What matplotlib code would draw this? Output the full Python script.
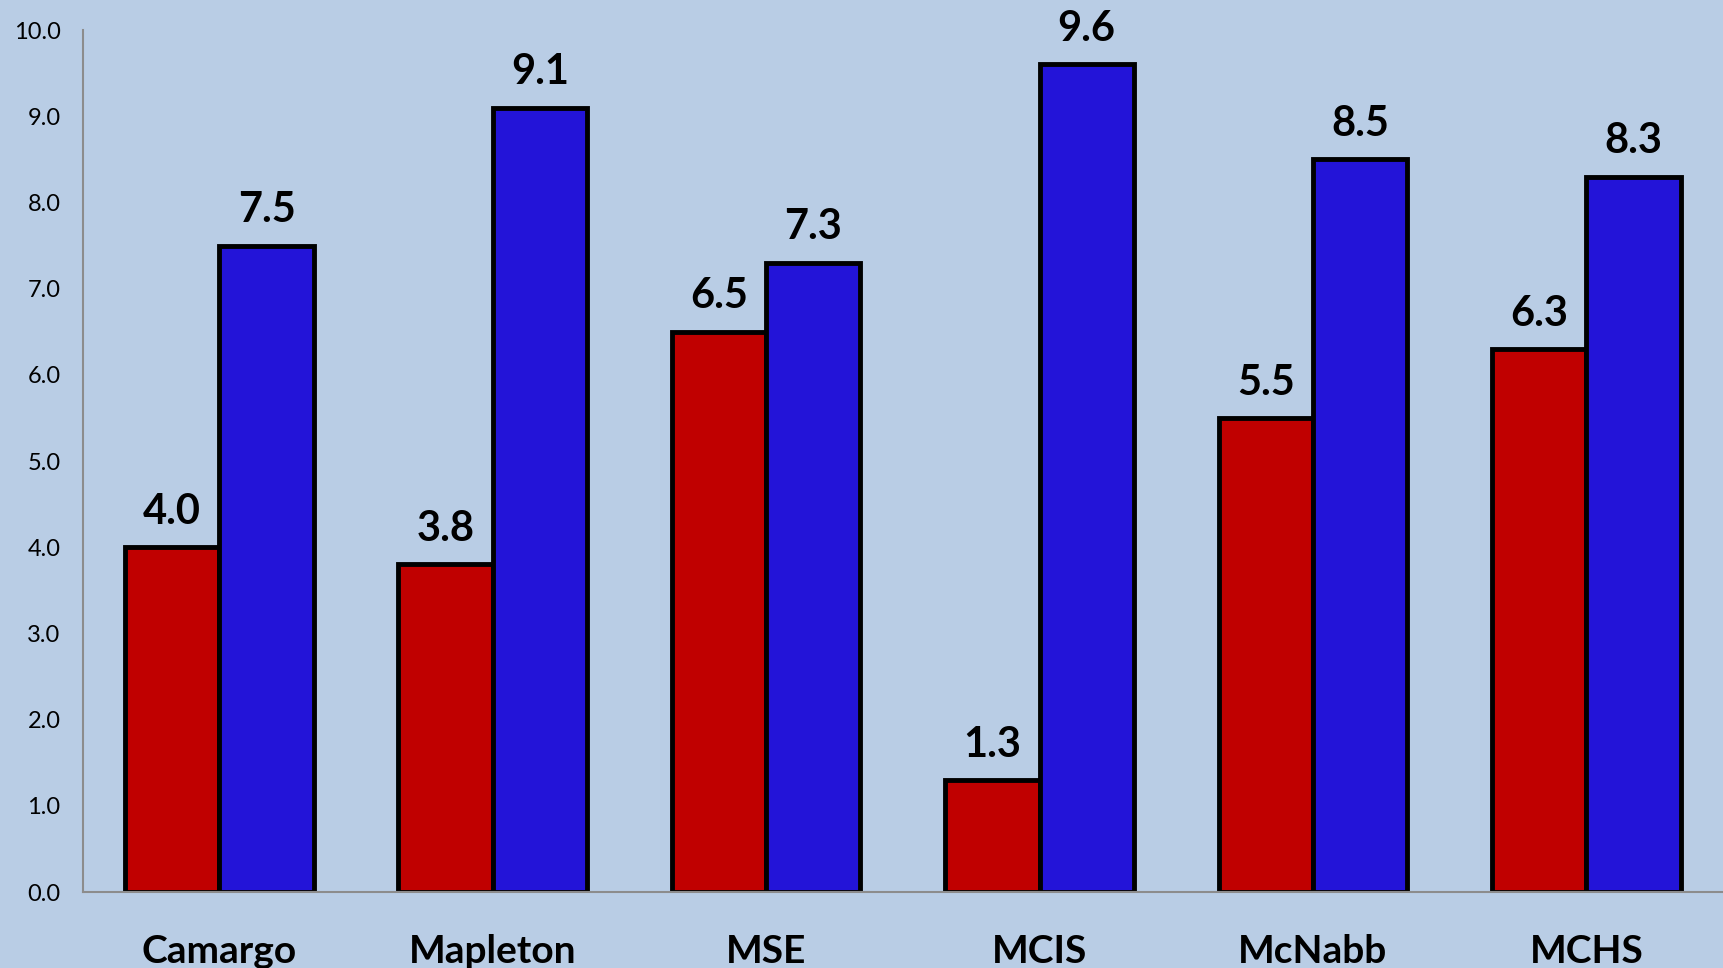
import matplotlib.pyplot as plt
import numpy as np

# data
categories = ['Camargo', 'Mapleton', 'MSE', 'MCIS', 'McNabb', 'MCHS']
red_vals = [4.0, 3.8, 6.5, 1.3, 5.5, 6.3]
blue_vals = [7.5, 9.1, 7.3, 9.6, 8.5, 8.3]
yticks = [0, 1, 2, 3, 4, 5, 6, 7, 8, 9, 10]

bg = '#B9CDE5'
plt.rcParams['font.family'] = ['Lato', 'DejaVu Sans']

fig = plt.figure(figsize=(17.23, 9.68), dpi=100, facecolor=bg)
ax = fig.add_axes([0.048, 0.0785, 0.952, 0.8905], facecolor=bg)

x = np.arange(len(categories))
w = 0.345
b1 = ax.bar(x - w / 2, red_vals, w, color='#C00000', edgecolor='black', linewidth=3.5)
b2 = ax.bar(x + w / 2, blue_vals, w, color='#2314D8', edgecolor='black', linewidth=3.5)

# value labels above each bar
for bars, vals in [(b1, red_vals), (b2, blue_vals)]:
    for r, v in zip(bars, vals):
        ax.text(r.get_x() + r.get_width() / 2, v + 0.19, f'{v:.1f}',
                ha='center', va='bottom', fontsize=30, fontweight='bold')

ax.set_xlim(-0.5, len(categories) - 0.5)
ax.set_ylim(0, 10)
ax.set_yticks(yticks)
ax.set_yticklabels([f'{t:.1f}' for t in yticks], fontsize=17)
ax.set_xticks(x)
ax.set_xticklabels(categories, fontsize=28, fontweight='bold')
ax.tick_params(axis='both', length=0)
ax.tick_params(axis='x', pad=30)
ax.tick_params(axis='y', pad=16)

for s in ['top', 'right']:
    ax.spines[s].set_visible(False)
for s in ['left', 'bottom']:
    ax.spines[s].set_color('#8C8C8C')
    ax.spines[s].set_linewidth(1.5)

fig.savefig('out.png', dpi=100, facecolor=bg)
